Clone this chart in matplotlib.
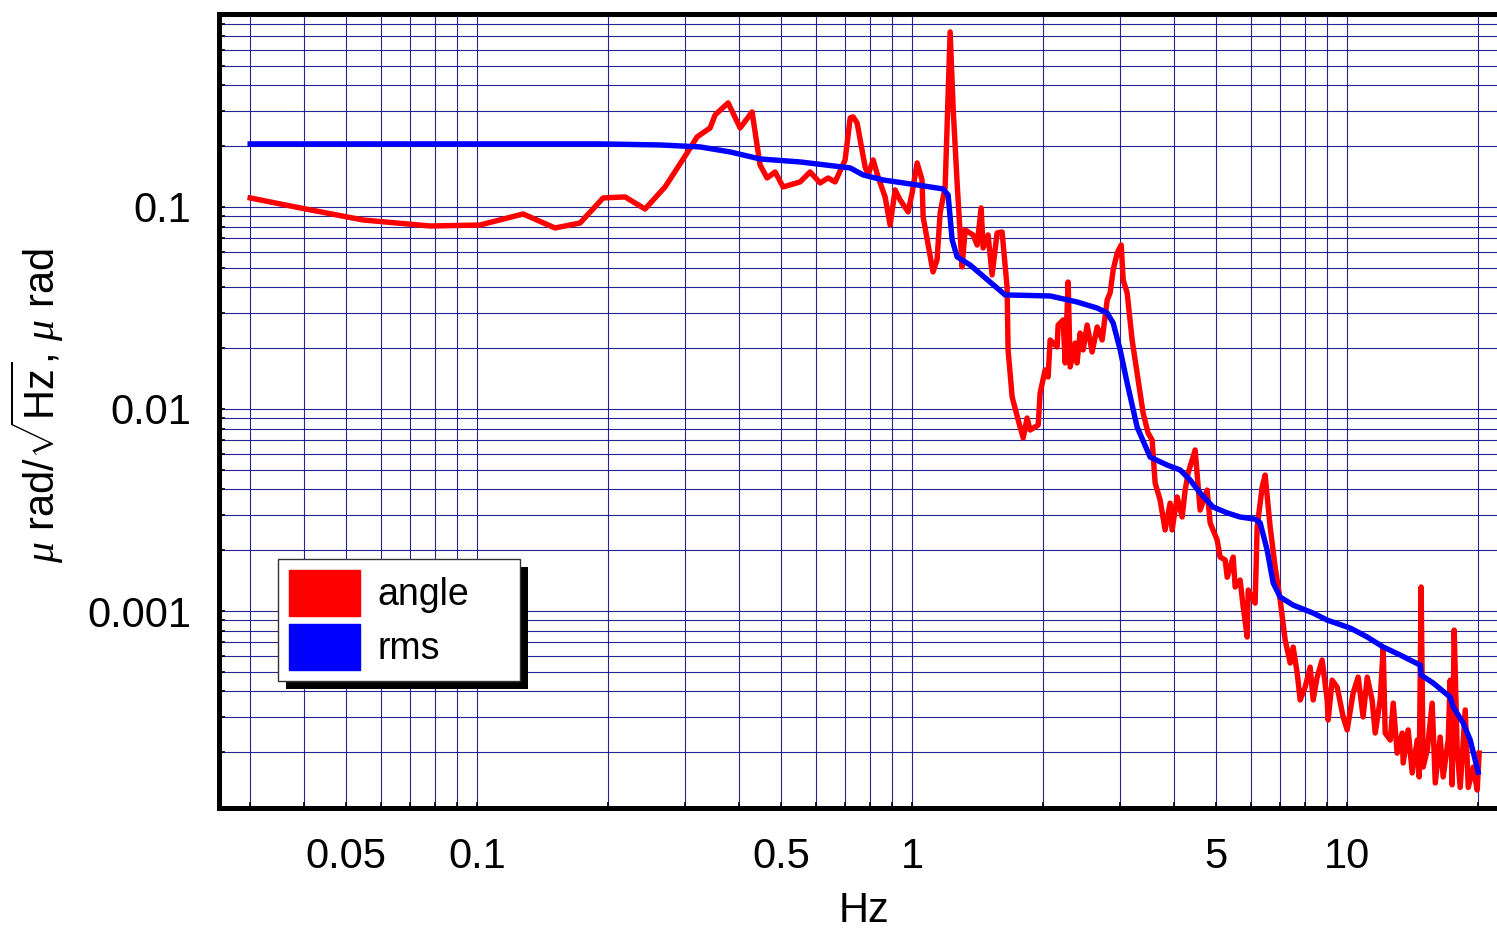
import matplotlib
matplotlib.use('Agg')
import matplotlib.pyplot as plt
from matplotlib.patches import Patch, Rectangle
from matplotlib.ticker import FixedLocator, LogLocator, NullFormatter
from matplotlib.transforms import IdentityTransform

# 1 - Data (Hz, value)

angle_f = [0.0301, 0.0392, 0.0547, 0.0780, 0.1016, 0.1276, 0.1511, 0.1725, 0.1949, 0.2189,
           0.2433, 0.2705, 0.3040, 0.3204, 0.3433, 0.3525, 0.3776, 0.4024, 0.4287, 0.4472,
           0.4642, 0.4843, 0.5052, 0.5529, 0.5828, 0.6145, 0.6410, 0.6652, 0.7015, 0.7205,
           0.7318, 0.7474, 0.7798, 0.7922, 0.8136, 0.8352, 0.8668, 0.8901, 0.9140, 0.9385,
           0.979, 1.0, 1.027, 1.054, 1.060, 1.117, 1.141, 1.160, 1.191, 1.223,
           1.243, 1.269, 1.303, 1.324, 1.381, 1.411, 1.441, 1.456, 1.495, 1.527,
           1.568, 1.610, 1.653, 1.662, 1.698, 1.753, 1.800, 1.838, 1.867, 1.949,
           1.969, 2.022, 2.054, 2.076, 2.154, 2.166, 2.224, 2.248, 2.284, 2.308,
           2.370, 2.394, 2.433, 2.472, 2.525, 2.593, 2.663, 2.734, 2.808, 2.852,
           2.898, 2.961, 3.024, 3.056, 3.121, 3.204, 3.290, 3.396, 3.487, 3.562,
           3.619, 3.716, 3.815, 3.918, 3.959, 4.066, 4.175, 4.242, 4.310, 4.473,
           4.592, 4.766, 4.842, 5.025, 5.105, 5.243, 5.300, 5.470, 5.528, 5.675,
           5.768, 5.892, 5.923, 6.144, 6.210, 6.377, 6.479, 6.653, 6.831, 7.015,
           7.202, 7.396, 7.514, 7.676, 7.798, 8.006, 8.221, 8.353, 8.531, 8.760,
           8.995, 9.043, 9.237, 9.485, 9.790, 10.0, 10.32, 10.60, 10.88, 11.12,
           11.41, 11.60, 11.91, 12.10, 12.23, 12.56, 12.76, 13.03, 13.38, 13.45,
           13.81, 14.11, 14.49, 14.64, 14.79, 14.95, 15.28, 15.68, 15.94, 16.36,
           16.62, 17.07, 17.25, 17.43, 17.62, 17.90, 18.19, 18.68, 18.98, 19.49,
           19.90, 20.11]
angle_v = [0.1108, 0.0989, 0.0862, 0.0805, 0.0814, 0.0923, 0.0787, 0.0833, 0.1108, 0.1121,
           0.0977, 0.1256, 0.1851, 0.2221, 0.2460, 0.2853, 0.3273, 0.2460, 0.2953, 0.1614,
           0.1391, 0.1490, 0.1256, 0.1330, 0.1490, 0.1315, 0.1391, 0.1330, 0.1709, 0.2759,
           0.2790, 0.2604, 0.1578, 0.1440, 0.1709, 0.1407, 0.1121, 0.0814, 0.1214, 0.1083,
           0.0945, 0.1173, 0.1651, 0.1360, 0.0893, 0.0477, 0.0546, 0.0934, 0.1256, 0.7351,
           0.3021, 0.1315, 0.0505, 0.0769, 0.0727, 0.0648, 0.0989, 0.0627, 0.0727, 0.0461,
           0.0743, 0.0752, 0.0402, 0.0196, 0.01147, 0.00882, 0.00719, 0.00902, 0.00787, 0.00833,
           0.0120, 0.0156, 0.0144, 0.02196, 0.02027, 0.02604, 0.02758, 0.0169, 0.0425, 0.01614,
           0.0212, 0.0169, 0.02377, 0.0196, 0.02604, 0.01915, 0.02547, 0.02196, 0.03464, 0.03752,
           0.04876, 0.0592, 0.0648, 0.0435, 0.03752, 0.02196, 0.01508, 0.00955, 0.0076, 0.00702,
           0.0043, 0.00354, 0.00252, 0.00342, 0.00252, 0.00367, 0.00292, 0.00397, 0.00482, 0.00627,
           0.00316, 0.00397, 0.00273, 0.00225, 0.00185, 0.00179, 0.00147, 0.00185, 0.001315, 0.001424,
           0.001047, 0.000744, 0.00127, 0.001095, 0.0026, 0.00411, 0.00471, 0.0026, 0.00165, 0.001133,
           0.000718, 0.000553, 0.000663, 0.000493, 0.000363, 0.00042, 0.000528, 0.000363, 0.000471, 0.000572,
           0.000363, 0.000289, 0.000455, 0.00042, 0.000299, 0.000258, 0.000393, 0.000471, 0.000299, 0.000471,
           0.000363, 0.000249, 0.000363, 0.000656, 0.000249, 0.00023, 0.00035, 0.000198, 0.000249, 0.000177,
           0.000258, 0.000158, 0.00023, 0.000151, 0.001315, 0.000169, 0.000205, 0.00035, 0.000141, 0.000238,
           0.000151, 0.00023, 0.000455, 0.000138, 0.000805, 0.000205, 0.000134, 0.000324, 0.000134, 0.000169,
           0.00013, 0.000198]

rms_f = [0.0301, 0.0665, 0.1918, 0.2635, 0.3256, 0.3816, 0.4472, 0.5529, 0.7205, 0.7717,
         0.8577, 1.027, 1.178, 1.210, 1.236, 1.269, 1.359, 1.511, 1.636, 2.076,
         2.394, 2.663, 2.808, 2.898, 3.008, 3.121, 3.290, 3.525, 3.857, 4.132,
         4.356, 4.592, 4.920, 5.300, 5.675, 6.144, 6.310, 6.549, 6.760, 7.015,
         7.514, 8.353, 8.995, 10.16, 11.12, 12.10, 13.24, 14.72, 14.79, 15.77,
         17.25, 17.53, 18.48, 19.18, 20.0]
rms_v = [0.2051, 0.2051, 0.2051, 0.2027, 0.1982, 0.1872, 0.1728, 0.167, 0.156, 0.144,
         0.136, 0.1285, 0.1228, 0.1147, 0.0687, 0.0566, 0.0516, 0.0425, 0.0367, 0.03626,
         0.03386, 0.0316, 0.02987, 0.02665, 0.01959, 0.01345, 0.00814, 0.00578, 0.00528, 0.00499,
         0.00445, 0.00384, 0.00327, 0.00306, 0.00292, 0.00285, 0.00273, 0.0020, 0.001376, 0.001173,
         0.00107, 0.000977, 0.000902, 0.000824, 0.000744, 0.000664, 0.000606, 0.00054, 0.000482, 0.00044,
         0.000375, 0.000335, 0.000279, 0.00023, 0.0001596]

x_ticks = [0.05, 0.1, 0.5, 1, 5, 10]
x_labels = ['0.05', '0.1', '0.5', '1', '5', '10']
y_ticks = [0.001, 0.01, 0.1]
y_labels = ['0.001', '0.01', '0.1']

# 2 - Plot

plt.rcParams['font.family'] = ['Liberation Sans', 'DejaVu Sans']
plt.rcParams['mathtext.fontset'] = 'custom'
plt.rcParams['mathtext.rm'] = 'Liberation Sans'
plt.rcParams['mathtext.it'] = 'Liberation Serif:italic'

fig = plt.figure(figsize=(14.97, 9.30), dpi=100)
ax = fig.add_axes([0.1463, 0.1312, 0.8537, 0.8538])

ax.plot(angle_f, angle_v, color='red', lw=3.9, solid_joinstyle='round', zorder=3)
ax.plot(rms_f, rms_v, color='blue', lw=3.9, solid_joinstyle='round', zorder=4)

ax.set_xscale('log')
ax.set_yscale('log')
ax.set_xlim(0.02552, 22.1)
ax.set_ylim(1.06e-4, 0.902)

ax.xaxis.set_major_locator(FixedLocator(x_ticks))
ax.set_xticklabels(x_labels)
ax.yaxis.set_major_locator(FixedLocator(y_ticks))
ax.set_yticklabels(y_labels)
for axis in (ax.xaxis, ax.yaxis):
    axis.set_minor_locator(LogLocator(base=10, subs=range(1, 10), numticks=50))
    axis.set_minor_formatter(NullFormatter())

ax.grid(True, which='both', color='#000080', lw=0.8, alpha=0.85)
ax.tick_params(which='both', direction='in', length=4, width=1.2, labelsize=30)
ax.tick_params(axis='x', pad=21)
ax.tick_params(axis='y', pad=20)

for side in ('left', 'bottom', 'top'):
    ax.spines[side].set_linewidth(3.6)
ax.spines['right'].set_visible(False)

ax.set_xlabel('Hz', fontsize=30)
ax.xaxis.set_label_coords(0.505, -0.105)
ax.set_ylabel(r'$\mu$ rad/$\sqrt{\mathrm{Hz}}$, $\mu$ rad', fontsize=30)
ax.yaxis.set_label_coords(-0.12, 0.507)

handles = [Patch(color='red', label='angle'), Patch(color='blue', label='rms')]
leg = ax.legend(handles=handles, loc='lower left', bbox_to_anchor=(0.046, 0.16, 0.1894, 0.1),
                mode='expand', borderaxespad=0, fontsize=27, fancybox=False, framealpha=1,
                edgecolor='#333333', handlelength=1.9, handleheight=1.5, labelspacing=0.22,
                borderpad=0.3, handletextpad=0.45)
leg.get_frame().set_linewidth(1.0)
leg.set_zorder(6)

# legend drop shadow
fig.canvas.draw()
bb = leg.get_window_extent()
ax.add_artist(Rectangle((bb.x0 + 8, bb.y0 - 8), bb.width, bb.height, transform=IdentityTransform(),
                        facecolor='black', edgecolor='none', zorder=5.5, clip_on=False))

plt.savefig('out.png', dpi=100)
